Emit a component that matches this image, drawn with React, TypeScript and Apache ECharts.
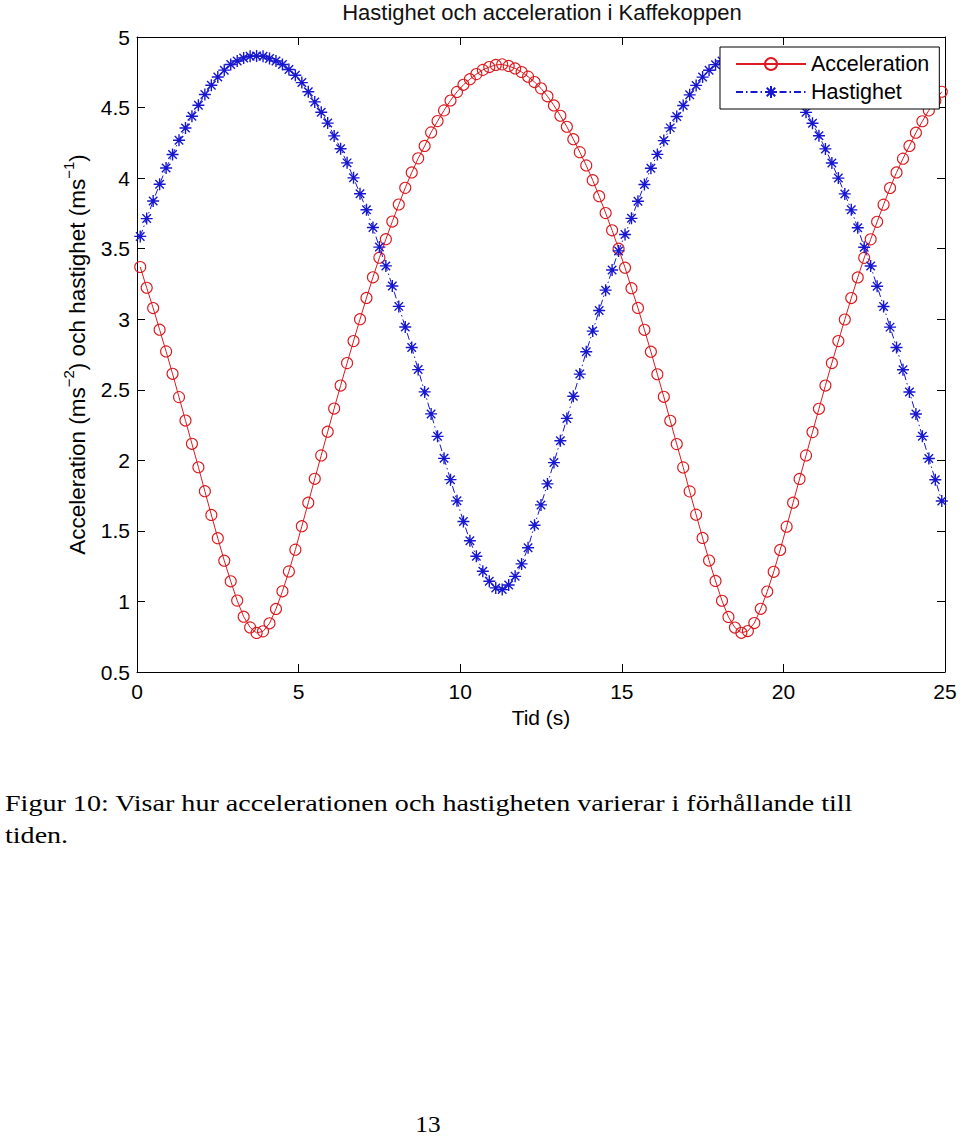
import React, { useEffect, useRef } from 'react';
import * as echarts from 'echarts';

// Sample times (s)
const T = [0.1,0.3,0.5,0.7,0.9,1.1,1.3,1.5,1.7,1.9,2.1,2.3,2.5,2.7,2.9,3.1,3.3,3.5,3.7,3.9,4.1,4.3,4.5,4.7,4.9,5.1,5.3,5.5,5.7,5.9,6.1,6.3,6.5,6.7,6.9,7.1,7.3,7.5,7.7,7.9,8.1,8.3,8.5,8.7,8.9,9.1,9.3,9.5,9.7,9.9,10.1,10.3,10.5,10.7,10.9,11.1,11.3,11.5,11.7,11.9,12.1,12.3,12.5,12.7,12.9,13.1,13.3,13.5,13.7,13.9,14.1,14.3,14.5,14.7,14.9,15.1,15.3,15.5,15.7,15.9,16.1,16.3,16.5,16.7,16.9,17.1,17.3,17.5,17.7,17.9,18.1,18.3,18.5,18.7,18.9,19.1,19.3,19.5,19.7,19.9,20.1,20.3,20.5,20.7,20.9,21.1,21.3,21.5,21.7,21.9,22.1,22.3,22.5,22.7,22.9,23.1,23.3,23.5,23.7,23.9,24.1,24.3,24.5,24.7,24.9];

// Acceleration (m/s^2)
const ACC = [3.37,3.223,3.079,2.926,2.772,2.613,2.448,2.282,2.117,1.951,1.781,1.613,1.448,1.289,1.143,1.006,0.892,0.816,0.777,
0.788,0.845,0.947,1.072,1.213,1.367,1.533,1.70,1.869,2.035,2.203,2.367,2.53,2.689,2.845,3.0,3.151,3.297,3.436,3.567,3.692,3.813,3.931,4.04,4.14,4.228,4.324,4.404,4.48,4.55,4.611,
4.661,4.701,4.737,4.767,4.787,4.802,4.806,4.795,4.777,4.752,4.719,4.681,4.636,4.58,4.515,4.442,4.364,4.276,4.184,4.09,3.985,3.872,3.752,3.63,3.50,
3.365,3.22,3.08,2.925,2.77,2.61,2.45,2.28,2.115,1.95,1.78,1.615,1.45,1.29,1.145,1.005,0.89,0.815,0.778,
0.79,0.847,0.948,1.07,1.21,1.365,1.53,1.70,1.868,2.035,2.2,2.365,2.53,2.69,2.845,2.998,3.15,3.296,3.435,3.566,3.69,3.812,3.93,4.04,4.138,4.228,4.322,4.403,4.48,4.548,4.612];

// Hastighet (m/s)
const VEL = [3.587,3.713,3.838,3.956,4.072,4.167,4.268,4.355,4.438,4.516,4.592,4.658,4.717,4.765,4.805,4.83,4.852,4.864,4.866,
4.864,4.847,4.83,4.805,4.77,4.729,4.677,4.612,4.54,4.467,4.39,4.299,4.208,4.108,4.002,3.889,3.776,3.65,3.511,3.378,3.235,3.091,2.945,2.80,2.643,2.485,2.329,2.17,2.014,1.863,1.713,
1.567,1.43,1.32,1.214,1.143,1.096,1.084,1.117,1.178,1.266,1.38,1.54,1.684,1.833,1.984,2.139,2.297,2.454,2.611,2.769,2.916,3.062,3.206,3.349,3.484,
3.60,3.715,3.836,3.955,4.07,4.168,4.266,4.356,4.437,4.515,4.59,4.657,4.716,4.764,4.804,4.83,4.851,4.863,4.866,
4.863,4.848,4.829,4.804,4.77,4.728,4.676,4.611,4.54,4.466,4.389,4.3,4.207,4.107,4.0,3.888,3.775,3.648,3.51,3.377,3.234,3.09,2.944,2.8,2.642,2.484,2.328,2.17,2.013,1.862,1.712];

const SERIES_NAMES = ['Acceleration', 'Hastighet'];
const TITLE = 'Hastighet och acceleration i Kaffekoppen';
const X_NAME = 'Tid (s)';
const CAPTION_1 = 'Figur 10: Visar hur accelerationen och hastigheten varierar i förhållande till';
const CAPTION_2 = 'tiden.';
const PAGE_NO = '13';

const RED = '#dd1a1f';
const BLUE = '#1717d0';
const SANS = 'Liberation Sans';
const SERIF = '"Liberation Serif", "Times New Roman", serif';

export default function App() {
  const ref = useRef<HTMLDivElement>(null);
  useEffect(() => {
    const chart = echarts.init(ref.current as HTMLDivElement, null, { renderer: 'svg' });
    const star = 'path://M5 0L5 10M0 5L10 5M1.46 1.46L8.54 8.54M1.46 8.54L8.54 1.46';
    const axisCommon = {
      axisLine: { show: true, onZero: false, lineStyle: { color: '#000', width: 1 } },
      axisTick: { show: true, inside: true, length: 8, lineStyle: { color: '#000', width: 1 } },
      splitLine: { show: false },
    };
    const option: any = {
      animation: false,
      backgroundColor: '#fff',
      grid: { left: 137, top: 37, width: 808, height: 635, containLabel: false },
      xAxis: [
        {
          type: 'value', min: 0, max: 25, interval: 5, position: 'bottom',
          ...axisCommon,
          axisLabel: { color: '#000', fontFamily: SANS, fontSize: 21, margin: 9 },
          name: X_NAME, nameLocation: 'middle', nameGap: 35,
          nameTextStyle: { color: '#000', fontFamily: SANS, fontSize: 21 },
        },
        {
          type: 'value', min: 0, max: 25, interval: 5, position: 'top',
          ...axisCommon,
          axisLabel: { show: false },
        },
      ],
      yAxis: [
        {
          type: 'value', min: 0.5, max: 5, interval: 0.5, position: 'left',
          ...axisCommon,
          axisLabel: { color: '#000', fontFamily: SANS, fontSize: 21, margin: 7 },
          name: '{a|Acceleration (ms}{s|−2}{a|) och hastighet (ms}{s|−1}{a|)}',
          nameLocation: 'middle', nameGap: 44,
          nameTextStyle: {
            rich: {
              a: { color: '#000', fontFamily: SANS, fontSize: 22.5, lineHeight: 32 },
              s: { color: '#000', fontFamily: SANS, fontSize: 15, lineHeight: 15, verticalAlign: 'top' },
            },
          },
        },
        {
          type: 'value', min: 0.5, max: 5, interval: 0.5, position: 'right',
          ...axisCommon,
          axisLabel: { show: false },
        },
      ],
      legend: {
        left: 720, top: 47, orient: 'vertical',
        backgroundColor: '#fff', borderColor: '#000', borderWidth: 1, borderRadius: 0,
        padding: [6, 10, 6, 15], itemWidth: 70, itemHeight: 15, itemGap: 6,
        textStyle: { color: '#000', fontFamily: SANS, fontSize: 21.5, lineHeight: 21 },
        data: SERIES_NAMES,
      },
      series: [
        {
          name: SERIES_NAMES[0], type: 'line', xAxisIndex: 0, yAxisIndex: 0,
          data: T.map((t, i) => [t, ACC[i]]),
          symbol: 'circle', symbolSize: 11,
          lineStyle: { color: RED, width: 1 },
          itemStyle: { color: 'none', borderColor: RED, borderWidth: 1.1 },
          silent: true, z: 2,
        },
        {
          name: SERIES_NAMES[1], type: 'line', xAxisIndex: 0, yAxisIndex: 0,
          data: T.map((t, i) => [t, VEL[i]]),
          symbol: star, symbolSize: 12,
          lineStyle: { color: BLUE, width: 1, type: [7, 3, 1.5, 3] },
          itemStyle: { color: 'none', borderColor: BLUE, borderWidth: 1.4 },
          silent: true, z: 3,
        },
      ],
      graphic: [
        { type: 'text', x: 542, y: 12, silent: true,
          style: { text: TITLE, align: 'center', verticalAlign: 'middle', fill: '#111', font: `22px ${SANS}` } },
        { type: 'text', x: 5, y: 803, scaleX: 1.17, silent: true,
          style: { text: CAPTION_1, align: 'left', verticalAlign: 'middle', fill: '#000', font: `24px ${SERIF}` } },
        { type: 'text', x: 5, y: 835, scaleX: 1.17, silent: true,
          style: { text: CAPTION_2, align: 'left', verticalAlign: 'middle', fill: '#000', font: `24px ${SERIF}` } },
        { type: 'text', x: 428, y: 1124, scaleX: 1.1, silent: true,
          style: { text: PAGE_NO, align: 'center', verticalAlign: 'middle', fill: '#000', font: `23px ${SERIF}` } },
      ],
    };
    chart.setOption(option);
    return () => chart.dispose();
  }, []);
  return <div ref={ref} style={{ position: 'absolute', left: 0, top: 0, width: 960, height: 1137 }} />;
}
